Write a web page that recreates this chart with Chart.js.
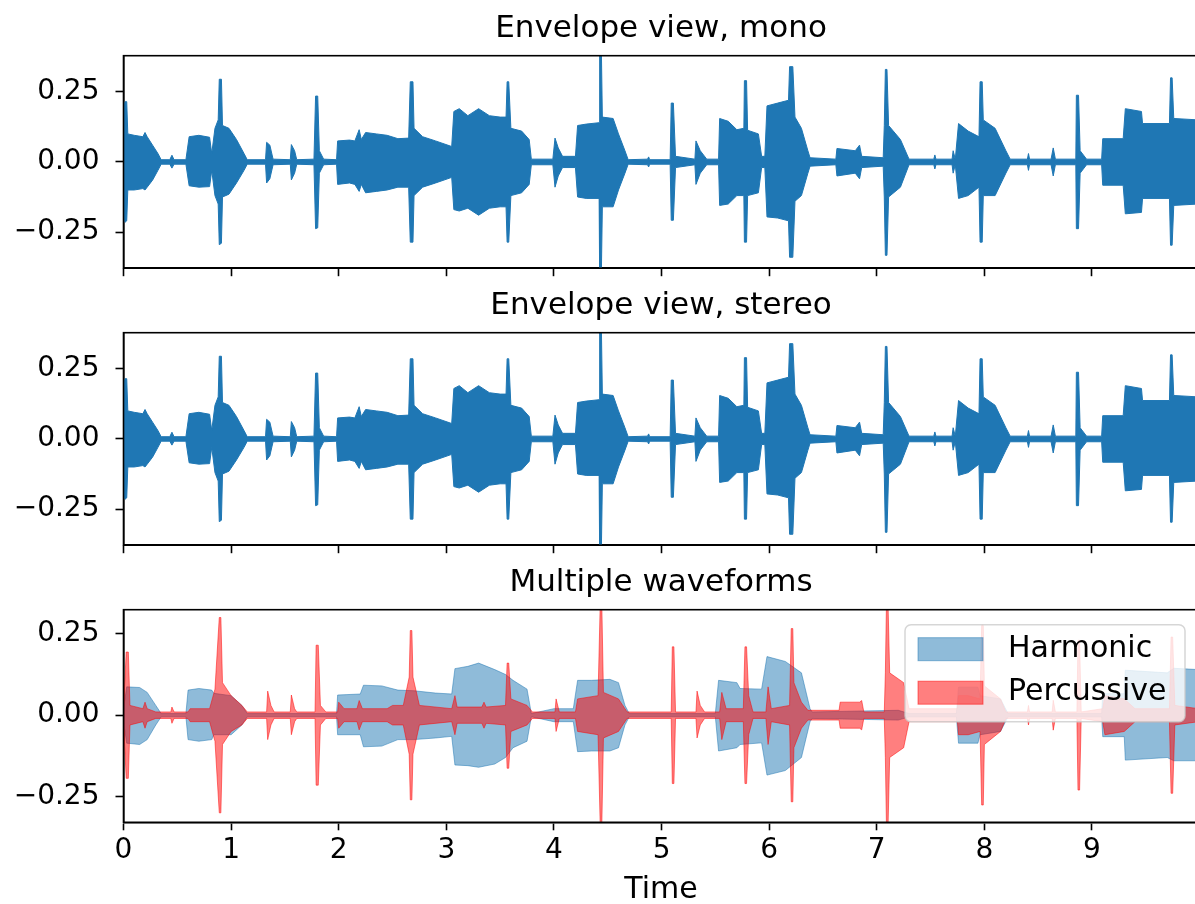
<!DOCTYPE html>
<html>
<head>
<meta charset="utf-8">
<script src="https://cdn.jsdelivr.net/npm/chart.js@4.4.1/dist/chart.umd.min.js"></script>
<style>
html, body { margin: 0; padding: 0; background: #fff; overflow: hidden; width: 1195px; height: 904px; }
canvas { position: absolute; left: 0; }
</style>
</head>
<body>
<canvas id="monoChart" width="1202" height="294" style="top:0px"></canvas>
<canvas id="stereoChart" width="1202" height="294" style="top:277px"></canvas>
<canvas id="multiChart" width="1202" height="350" style="top:554px"></canvas>
<script>
// tick labels
const xTicks = [0, 1, 2, 3, 4, 5, 6, 7, 8, 9]
const yTicks = [-0.25, 0, 0.25]

// envelope of the mix (used for mono and stereo panels)
const monoTime = [
  0.00, 0.015, 0.03, 0.04, 0.10, 0.18, 0.20, 0.22, 0.27, 0.32,
  0.35, 0.43, 0.45, 0.47, 0.58, 0.61, 0.70, 0.80, 0.82, 0.85,
  0.88, 0.89, 0.91, 0.92, 0.98, 1.05, 1.12, 1.15, 1.32, 1.33,
  1.36, 1.39, 1.55, 1.56, 1.59, 1.61, 1.77, 1.785, 1.805, 1.82,
  1.86, 1.98, 1.99, 2.10, 2.15, 2.19, 2.21, 2.25, 2.35, 2.45,
  2.55, 2.65, 2.665, 2.69, 2.70, 2.78, 2.90, 3.05, 3.07, 3.12,
  3.20, 3.30, 3.40, 3.50, 3.555, 3.565, 3.58, 3.60, 3.70, 3.77,
  3.79, 3.99, 4.01, 4.04, 4.08, 4.20, 4.22, 4.30, 4.42, 4.425,
  4.44, 4.45, 4.55, 4.60, 4.66, 4.69, 4.87, 4.88, 4.89, 5.08,
  5.09, 5.11, 5.13, 5.31, 5.32, 5.36, 5.42, 5.53, 5.54, 5.62,
  5.70, 5.765, 5.77, 5.79, 5.80, 5.90, 5.93, 5.96, 5.98, 6.08,
  6.18, 6.19, 6.22, 6.24, 6.30, 6.36, 6.38, 6.62, 6.63, 6.80,
  6.84, 6.86, 7.06, 7.07, 7.08, 7.095, 7.11, 7.22, 7.30, 7.53,
  7.54, 7.55, 7.70, 7.71, 7.73, 7.76, 7.85, 7.95, 7.96, 7.98,
  7.99, 8.10, 8.20, 8.24, 8.40, 8.41, 8.42, 8.62, 8.64, 8.66,
  8.85, 8.855, 8.875, 8.89, 8.95, 9.09, 9.10, 9.29, 9.31, 9.46,
  9.47, 9.72, 9.73, 9.745, 9.76, 9.99
]
const monoUpper = [
  0.20, 0.215, 0.215, 0.10, 0.095, 0.09, 0.105, 0.09, 0.06, 0.03,
  0.008, 0.008, 0.024, 0.008, 0.008, 0.09, 0.095, 0.088, 0.03, 0.12,
  0.15, 0.295, 0.295, 0.13, 0.12, 0.08, 0.03, 0.008, 0.008, 0.07,
  0.06, 0.01, 0.008, 0.062, 0.04, 0.008, 0.01, 0.235, 0.235, 0.04,
  0.01, 0.008, 0.075, 0.078, 0.075, 0.115, 0.08, 0.105, 0.10, 0.095,
  0.083, 0.085, 0.286, 0.286, 0.12, 0.09, 0.075, 0.055, 0.18, 0.19,
  0.165, 0.19, 0.165, 0.16, 0.16, 0.286, 0.286, 0.12, 0.11, 0.08,
  0.01, 0.01, 0.085, 0.05, 0.02, 0.02, 0.13, 0.135, 0.14, 0.42,
  0.42, 0.16, 0.155, 0.10, 0.04, 0.008, 0.01, 0.018, 0.008, 0.008,
  0.21, 0.21, 0.02, 0.01, 0.075, 0.04, 0.01, 0.01, 0.155, 0.145,
  0.115, 0.12, 0.29, 0.29, 0.113, 0.10, 0.02, 0.02, 0.20, 0.21,
  0.22, 0.34, 0.34, 0.16, 0.12, 0.04, 0.015, 0.01, 0.048, 0.04,
  0.06, 0.02, 0.015, 0.13, 0.33, 0.33, 0.13, 0.08, 0.01, 0.01,
  0.025, 0.01, 0.01, 0.04, 0.01, 0.137, 0.11, 0.09, 0.286, 0.286,
  0.15, 0.12, 0.04, 0.01, 0.01, 0.03, 0.01, 0.01, 0.05, 0.01,
  0.01, 0.238, 0.238, 0.04, 0.01, 0.01, 0.083, 0.083, 0.19, 0.18,
  0.137, 0.137, 0.30, 0.30, 0.155, 0.15
]
const monoLower = [
  -0.20, -0.215, -0.21, -0.10, -0.10, -0.095, -0.10, -0.09, -0.065, -0.03,
  -0.008, -0.008, -0.022, -0.008, -0.008, -0.085, -0.09, -0.088, -0.03, -0.12,
  -0.15, -0.295, -0.29, -0.125, -0.115, -0.075, -0.03, -0.008, -0.008, -0.075,
  -0.06, -0.01, -0.008, -0.064, -0.04, -0.008, -0.01, -0.238, -0.235, -0.04,
  -0.01, -0.008, -0.08, -0.075, -0.08, -0.105, -0.08, -0.11, -0.105, -0.10,
  -0.09, -0.09, -0.286, -0.286, -0.12, -0.09, -0.075, -0.055, -0.17, -0.175,
  -0.165, -0.19, -0.165, -0.16, -0.16, -0.286, -0.286, -0.12, -0.11, -0.08,
  -0.01, -0.01, -0.09, -0.05, -0.02, -0.02, -0.125, -0.13, -0.13, -0.42,
  -0.42, -0.16, -0.16, -0.10, -0.04, -0.008, -0.01, -0.018, -0.008, -0.008,
  -0.208, -0.208, -0.02, -0.01, -0.08, -0.04, -0.01, -0.01, -0.155, -0.15,
  -0.12, -0.12, -0.286, -0.286, -0.12, -0.11, -0.02, -0.02, -0.196, -0.20,
  -0.21, -0.34, -0.34, -0.14, -0.12, -0.04, -0.015, -0.01, -0.05, -0.04,
  -0.06, -0.02, -0.015, -0.125, -0.333, -0.333, -0.125, -0.09, -0.01, -0.01,
  -0.025, -0.01, -0.01, -0.04, -0.01, -0.13, -0.12, -0.09, -0.286, -0.286,
  -0.12, -0.12, -0.04, -0.01, -0.01, -0.03, -0.01, -0.01, -0.05, -0.01,
  -0.01, -0.238, -0.238, -0.04, -0.01, -0.01, -0.083, -0.083, -0.185, -0.18,
  -0.13, -0.13, -0.297, -0.297, -0.155, -0.15
]

// harmonic part
const harmTime = [
  0.00, 0.03, 0.15, 0.22, 0.30, 0.35, 0.58, 0.60, 0.70, 0.82,
  0.84, 1.00, 1.10, 1.15, 1.98, 1.99, 2.20, 2.23, 2.40, 2.55,
  2.70, 2.90, 3.05, 3.08, 3.20, 3.30, 3.45, 3.55, 3.62, 3.75,
  3.79, 4.00, 4.18, 4.22, 4.35, 4.52, 4.60, 4.66, 4.70, 5.50,
  5.53, 5.70, 5.73, 5.93, 5.98, 6.15, 6.30, 6.38, 6.40, 7.20,
  7.30, 7.74, 7.76, 7.94, 7.96, 8.15, 8.22, 9.09, 9.10, 9.30,
  9.31, 9.70, 9.76, 9.99
]
const harmUpper = [
  0.02, 0.087, 0.085, 0.07, 0.03, 0.005, 0.005, 0.077, 0.082, 0.077,
  0.067, 0.06, 0.03, 0.005, 0.005, 0.062, 0.065, 0.092, 0.09, 0.077,
  0.075, 0.068, 0.065, 0.143, 0.15, 0.16, 0.14, 0.125, 0.107, 0.08,
  0.005, 0.02, 0.02, 0.107, 0.107, 0.11, 0.10, 0.03, 0.005, 0.005,
  0.107, 0.10, 0.082, 0.08, 0.18, 0.165, 0.13, 0.02, 0.01, 0.015,
  0.005, 0.005, 0.086, 0.086, 0.06, 0.05, 0.005, 0.005, 0.066, 0.066,
  0.138, 0.13, 0.144, 0.14
]
const harmLower = [
  -0.02, -0.086, -0.09, -0.075, -0.03, -0.005, -0.005, -0.075, -0.08, -0.075,
  -0.06, -0.06, -0.03, -0.005, -0.005, -0.06, -0.06, -0.097, -0.095, -0.075,
  -0.075, -0.07, -0.065, -0.153, -0.155, -0.16, -0.15, -0.13, -0.10, -0.08,
  -0.005, -0.02, -0.02, -0.112, -0.11, -0.11, -0.10, -0.03, -0.005, -0.005,
  -0.11, -0.10, -0.09, -0.085, -0.184, -0.17, -0.13, -0.02, -0.01, -0.015,
  -0.005, -0.005, -0.086, -0.086, -0.06, -0.05, -0.005, -0.005, -0.066, -0.066,
  -0.138, -0.13, -0.14, -0.14
]

// percussive part
const percTime = [
  0.00, 0.025, 0.045, 0.06, 0.18, 0.20, 0.22, 0.30, 0.44, 0.45,
  0.47, 0.60, 0.62, 0.80, 0.85, 0.89, 0.905, 0.92, 1.00, 1.10,
  1.15, 1.33, 1.34, 1.37, 1.40, 1.55, 1.56, 1.59, 1.61, 1.78,
  1.79, 1.81, 1.83, 1.88, 1.99, 2.00, 2.05, 2.17, 2.19, 2.22,
  2.45, 2.50, 2.60, 2.655, 2.665, 2.68, 2.69, 2.75, 3.05, 3.08,
  3.10, 3.33, 3.35, 3.37, 3.55, 3.565, 3.58, 3.60, 3.75, 3.80,
  4.01, 4.02, 4.05, 4.20, 4.22, 4.41, 4.43, 4.445, 4.46, 4.60,
  4.68, 5.09, 5.10, 5.115, 5.13, 5.32, 5.33, 5.36, 5.40, 5.54,
  5.56, 5.60, 5.76, 5.775, 5.79, 5.81, 5.85, 5.97, 5.99, 6.02,
  6.19, 6.205, 6.22, 6.23, 6.30, 6.36, 6.65, 6.66, 6.84, 6.86,
  6.88, 7.07, 7.08, 7.09, 7.105, 7.12, 7.25, 7.30, 7.75, 7.76,
  7.85, 7.96, 7.975, 7.99, 8.00, 8.15, 8.20, 8.40, 8.41, 8.42,
  8.63, 8.64, 8.66, 8.86, 8.87, 8.885, 8.90, 9.10, 9.12, 9.30,
  9.40, 9.72, 9.735, 9.75, 9.77, 9.99
]
const percUpper = [
  0.02, 0.194, 0.194, 0.03, 0.02, 0.04, 0.02, 0.01, 0.01, 0.025,
  0.01, 0.01, 0.02, 0.02, 0.08, 0.30, 0.30, 0.10, 0.06, 0.03,
  0.01, 0.01, 0.074, 0.03, 0.01, 0.01, 0.062, 0.02, 0.01, 0.01,
  0.215, 0.215, 0.03, 0.01, 0.01, 0.04, 0.02, 0.02, 0.045, 0.02,
  0.02, 0.03, 0.03, 0.117, 0.26, 0.26, 0.117, 0.03, 0.02, 0.06,
  0.025, 0.025, 0.04, 0.025, 0.03, 0.16, 0.16, 0.05, 0.03, 0.01,
  0.01, 0.05, 0.01, 0.01, 0.05, 0.06, 0.34, 0.34, 0.07, 0.05,
  0.01, 0.01, 0.21, 0.21, 0.01, 0.01, 0.074, 0.03, 0.01, 0.01,
  0.07, 0.02, 0.02, 0.21, 0.21, 0.06, 0.01, 0.01, 0.087, 0.02,
  0.03, 0.266, 0.266, 0.10, 0.04, 0.015, 0.015, 0.04, 0.04, 0.045,
  0.01, 0.01, 0.13, 0.34, 0.34, 0.13, 0.10, 0.02, 0.02, 0.06,
  0.06, 0.05, 0.276, 0.276, 0.09, 0.05, 0.01, 0.01, 0.03, 0.01,
  0.01, 0.046, 0.01, 0.01, 0.23, 0.23, 0.01, 0.02, 0.06, 0.05,
  0.02, 0.02, 0.24, 0.24, 0.03, 0.02
]
const percLower = [
  -0.02, -0.194, -0.194, -0.03, -0.02, -0.04, -0.02, -0.01, -0.01, -0.025,
  -0.01, -0.01, -0.02, -0.02, -0.08, -0.30, -0.30, -0.09, -0.05, -0.03,
  -0.01, -0.01, -0.075, -0.03, -0.01, -0.01, -0.06, -0.02, -0.01, -0.01,
  -0.215, -0.215, -0.03, -0.01, -0.01, -0.04, -0.02, -0.02, -0.045, -0.02,
  -0.02, -0.03, -0.03, -0.12, -0.26, -0.26, -0.12, -0.03, -0.02, -0.06,
  -0.025, -0.025, -0.04, -0.025, -0.03, -0.163, -0.163, -0.05, -0.03, -0.01,
  -0.01, -0.05, -0.01, -0.01, -0.05, -0.06, -0.34, -0.34, -0.07, -0.05,
  -0.01, -0.01, -0.21, -0.21, -0.01, -0.01, -0.07, -0.03, -0.01, -0.01,
  -0.075, -0.02, -0.02, -0.21, -0.21, -0.06, -0.01, -0.01, -0.09, -0.02,
  -0.03, -0.266, -0.266, -0.10, -0.04, -0.015, -0.015, -0.04, -0.04, -0.045,
  -0.01, -0.01, -0.13, -0.34, -0.34, -0.13, -0.10, -0.02, -0.02, -0.06,
  -0.06, -0.05, -0.276, -0.276, -0.09, -0.05, -0.01, -0.01, -0.03, -0.01,
  -0.01, -0.046, -0.01, -0.01, -0.23, -0.23, -0.01, -0.02, -0.06, -0.05,
  -0.02, -0.02, -0.24, -0.24, -0.03, -0.02
]

Chart.defaults.font.family = "'DejaVu Sans', sans-serif"
Chart.defaults.color = '#000'

function pts(t, v) {
  return t.map((x, i) => ({x: x, y: v[i]}))
}

function yLabel(v) {
  return (v < 0 ? '\u2212' : '') + Math.abs(v).toFixed(2)
}

// upper + lower edge, filled between them; lower order = drawn on top
function band(label, t, hi, lo, color, order) {
  var common = {backgroundColor: color, borderColor: color, borderWidth: 1, pointRadius: 0, tension: 0, order: order}
  return [
    Object.assign({label: label, data: pts(t, hi), fill: '+1'}, common),
    Object.assign({label: '', data: pts(t, lo), fill: false}, common)
  ]
}

// axes box (top/right spines too)
const frame = {
  id: 'frame',
  afterDraw(chart) {
    var a = chart.chartArea, c = chart.ctx
    c.save()
    c.strokeStyle = '#000'
    c.lineWidth = 1.6
    c.strokeRect(a.left, a.top, a.right - a.left, a.bottom - a.top)
    c.restore()
  }
}

// matplotlib-like legend inside the axes, upper right
const boxLegend = {
  id: 'boxLegend',
  afterDatasetsDraw(chart, args, opts) {
    if (!opts.show) return
    var a = chart.chartArea, c = chart.ctx
    var x0 = a.right - 293.5, y0 = a.top + 15, w = 280, h = 97
    c.save()
    c.beginPath()
    c.roundRect(x0, y0, w, h, 6)
    c.fillStyle = 'rgba(255,255,255,0.8)'
    c.fill()
    c.strokeStyle = 'rgba(204,204,204,0.8)'
    c.lineWidth = 1.5
    c.stroke()
    var items = chart.data.datasets.filter(d => d.label)
    items.forEach(function(d, i) {
      var cy = y0 + 24.5 + i * 43.5
      c.fillStyle = d.backgroundColor
      c.fillRect(x0 + 13, cy - 11.5, 65, 23)
      c.strokeStyle = d.borderColor
      c.lineWidth = 1
      c.strokeRect(x0 + 13, cy - 11.5, 65, 23)
      c.fillStyle = '#000'
      c.font = "30px 'DejaVu Sans', sans-serif"
      c.textBaseline = 'middle'
      c.textAlign = 'left'
      c.fillText(d.label, x0 + 103, cy)
    })
    c.restore()
  }
}

function makeChart(id, title, sets, yMin, yMax, bottom) {
  return new Chart(document.getElementById(id), {
    type: 'line',
    data: {datasets: sets},
    options: {
      responsive: false,
      animation: false,
      events: [],
      layout: {padding: {left: 0, right: 3.5, top: 0, bottom: 0}},
      plugins: {
        legend: {display: false},
        tooltip: {enabled: false},
        title: {
          display: true, fullSize: false, text: title, color: '#000',
          font: {size: 31, weight: 'normal', lineHeight: 1.2},
          padding: {top: 10, bottom: 8.5}
        },
        boxLegend: {show: bottom}
      },
      scales: {
        x: {
          type: 'linear', min: 0, max: 9.99,
          afterBuildTicks: s => { s.ticks = xTicks.map(v => ({value: v})) },
          afterFit: s => { s.height = bottom ? 81.7 : 22.3 },
          grid: {drawOnChartArea: false, tickLength: 8, tickWidth: 1.6, tickColor: '#000'},
          border: {color: '#000', width: 1.6},
          ticks: {display: bottom, font: {size: 28}, padding: 4, maxRotation: 0, autoSkip: false, callback: v => String(v)},
          title: {display: bottom, text: 'Time', font: {size: 30, lineHeight: 0.8}, padding: {top: 0, bottom: 2}}
        },
        y: {
          min: yMin, max: yMax,
          afterBuildTicks: s => { s.ticks = yTicks.map(v => ({value: v})) },
          afterFit: s => { s.width = 123.5 },
          grid: {drawOnChartArea: false, tickLength: 8, tickWidth: 1.6, tickColor: '#000'},
          border: {color: '#000', width: 1.6},
          ticks: {font: {size: 28, lineHeight: 0.7}, padding: 16, callback: yLabel}
        }
      }
    },
    plugins: [frame, boxLegend]
  })
}

makeChart('monoChart', 'Envelope view, mono',
  band('', monoTime, monoUpper, monoLower, '#1f77b4', 0), -0.379, 0.379, false)
makeChart('stereoChart', 'Envelope view, stereo',
  band('', monoTime, monoUpper, monoLower, '#1f77b4', 0), -0.379, 0.379, false)
makeChart('multiChart', 'Multiple waveforms',
  band('Harmonic', harmTime, harmUpper, harmLower, 'rgba(31,119,180,0.5)', 2)
    .concat(band('Percussive', percTime, percUpper, percLower, 'rgba(255,0,0,0.5)', 1)),
  -0.329, 0.324, true)
</script>
</body>
</html>
